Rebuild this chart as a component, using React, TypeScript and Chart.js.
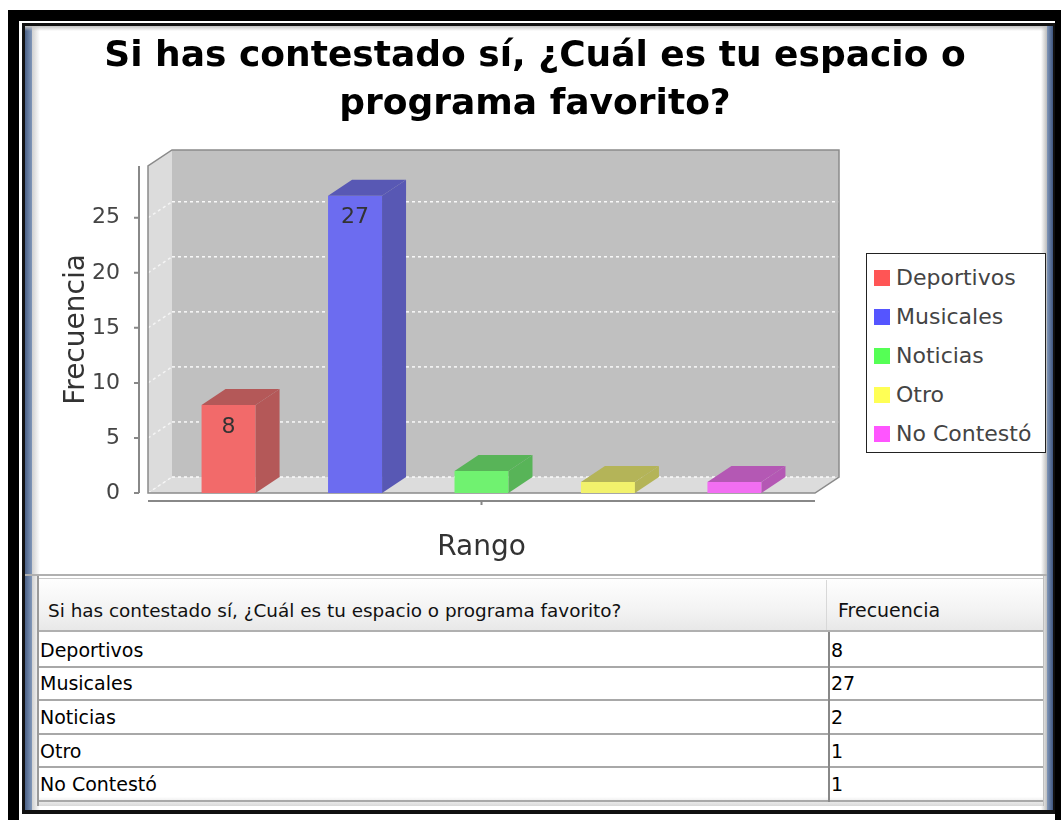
import React, { useEffect, useRef } from 'react';
import { Chart, registerables } from 'chart.js';

Chart.register(...registerables);

// ---------- data ----------
const titleLines = ['Si has contestado sí, ¿Cuál es tu espacio o', 'programa favorito?'];
const categories = [''];
const seriesNames = ['Deportivos', 'Musicales', 'Noticias', 'Otro', 'No Contestó'];
const frequencies = [8, 27, 2, 1, 1];
const yTicks = [0, 5, 10, 15, 20, 25];
const yMax = 29.7;
const yAxisTitle = 'Frecuencia';
const xAxisTitle = 'Rango';
const tableHeader = ['Si has contestado sí, ¿Cuál es tu espacio o programa favorito?', 'Frecuencia'];

// ---------- styles ----------
const frontColors = ['rgb(242,106,106)', 'rgb(108,108,240)', 'rgb(112,242,112)', 'rgb(242,242,108)', 'rgb(242,110,242)'];
const sideColors = ['rgb(180,88,88)', 'rgb(88,88,180)', 'rgb(88,180,88)', 'rgb(180,180,88)', 'rgb(180,88,180)'];
const legendColors = ['#ff5555', '#5555ff', '#55ff55', '#ffff55', '#ff55ff'];
const FONT = '"DejaVu Sans", Verdana, sans-serif';
const DX = 24;
const DY = 16;
const CANVAS_LEFT = 10;
const CANVAS_W = 1050;
const CANVAS_H = 570;

const box3d = {
  id: 'box3d',
  beforeDatasetsDraw(chart: any) {
    const { ctx, chartArea: a, scales } = chart;
    const y = scales.y;
    const L = a.left, R = a.right, T = a.top, B = a.bottom;
    ctx.save();
    // back wall
    ctx.fillStyle = '#c0c0c0';
    ctx.fillRect(L + DX, T - DY, R - L, B - T);
    // left wall
    ctx.fillStyle = '#dcdcdc';
    ctx.beginPath();
    ctx.moveTo(L, T); ctx.lineTo(L + DX, T - DY); ctx.lineTo(L + DX, B - DY); ctx.lineTo(L, B);
    ctx.closePath(); ctx.fill();
    // floor
    ctx.beginPath();
    ctx.moveTo(L, B); ctx.lineTo(L + DX, B - DY); ctx.lineTo(R + DX, B - DY); ctx.lineTo(R, B);
    ctx.closePath(); ctx.fill();
    // grid lines
    ctx.setLineDash([3, 3]);
    ctx.lineWidth = 1.5;
    yTicks.forEach((v) => {
      const py = y.getPixelForValue(v);
      ctx.strokeStyle = 'rgba(255,255,255,0.9)';
      ctx.beginPath();
      ctx.moveTo(L + DX, py - DY); ctx.lineTo(R + DX, py - DY);
      ctx.stroke();
      ctx.strokeStyle = 'rgba(255,255,255,0.7)';
      ctx.beginPath();
      ctx.moveTo(L, py); ctx.lineTo(L + DX, py - DY);
      ctx.stroke();
    });
    ctx.setLineDash([]);
    // outline
    ctx.strokeStyle = '#8a8a8a';
    ctx.lineWidth = 1.5;
    ctx.beginPath();
    ctx.moveTo(L, B); ctx.lineTo(L, T); ctx.lineTo(L + DX, T - DY); ctx.lineTo(R + DX, T - DY);
    ctx.lineTo(R + DX, B - DY); ctx.lineTo(R, B); ctx.closePath();
    ctx.stroke();
    // axis lines
    ctx.strokeStyle = '#888';
    ctx.lineWidth = 2;
    ctx.beginPath();
    ctx.moveTo(L - 9, T); ctx.lineTo(L - 9, B);
    ctx.moveTo(L, B + 8); ctx.lineTo(R, B + 8);
    yTicks.forEach((v) => {
      const py = y.getPixelForValue(v);
      ctx.moveTo(L - 14, py); ctx.lineTo(L - 9, py);
    });
    const cx = scales.x.getPixelForValue(0);
    ctx.moveTo(cx, B + 8); ctx.lineTo(cx, B + 12);
    ctx.stroke();
    ctx.restore();
  },
  afterDatasetsDraw(chart: any) {
    const { ctx } = chart;
    ctx.save();
    chart.data.datasets.forEach((ds: any, i: number) => {
      const meta = chart.getDatasetMeta(i);
      meta.data.forEach((bar: any, j: number) => {
        const { x, y, base, width } = bar.getProps(['x', 'y', 'base', 'width'], true);
        const x0 = x - width / 2;
        const x1 = x + width / 2;
        ctx.fillStyle = sideColors[i];
        ctx.beginPath();
        ctx.moveTo(x0, y); ctx.lineTo(x0 + DX, y - DY); ctx.lineTo(x1 + DX, y - DY); ctx.lineTo(x1, y);
        ctx.closePath(); ctx.fill();
        ctx.beginPath();
        ctx.moveTo(x1, y); ctx.lineTo(x1 + DX, y - DY); ctx.lineTo(x1 + DX, base - DY); ctx.lineTo(x1, base);
        ctx.closePath(); ctx.fill();
        if (base - y > 40) {
          ctx.fillStyle = '#333';
          ctx.font = `22px ${FONT}`;
          ctx.textAlign = 'center';
          ctx.textBaseline = 'middle';
          ctx.fillText(String(ds.data[j]), x, y + 22);
        }
      });
    });
    ctx.restore();
  },
};

const ChartCanvas: React.FC = () => {
  const ref = useRef<HTMLCanvasElement | null>(null);
  useEffect(() => {
    if (!ref.current) return;
    const chart = new Chart(ref.current, {
      type: 'bar',
      data: {
        labels: categories,
        datasets: seriesNames.map((name, i) => ({
          label: name,
          data: [frequencies[i]],
          backgroundColor: frontColors[i],
          borderWidth: 0,
          categoryPercentage: 0.948,
          barPercentage: 0.427,
        })),
      },
      options: {
        responsive: false,
        animation: false,
        layout: { padding: 0 },
        plugins: {
          legend: { display: false },
          tooltip: { enabled: false },
          title: {
            display: true,
            text: titleLines,
            color: '#000',
            font: { family: FONT, size: 36, weight: 'bold', lineHeight: '48px' },
            padding: { top: 33, bottom: 37 },
          },
        },
        scales: {
          x: {
            type: 'category',
            grid: { display: false },
            border: { display: false },
            ticks: { display: false },
            title: {
              display: true,
              text: xAxisTitle,
              color: '#333',
              font: { family: FONT, size: 28 },
              padding: { top: 0, bottom: 5 },
            },
            afterFit: (s: any) => { s.height = 77; },
          },
          y: {
            type: 'linear',
            position: 'left',
            min: 0,
            max: yMax,
            grid: { display: false },
            border: { display: false },
            ticks: { color: '#444', font: { family: FONT, size: 22 }, padding: 20 },
            afterBuildTicks: (s: any) => { s.ticks = yTicks.map((v) => ({ value: v })); },
            title: {
              display: true,
              text: yAxisTitle,
              color: '#333',
              font: { family: FONT, size: 28 },
              padding: { top: 50, bottom: 0 },
            },
            afterFit: (s: any) => { s.width = 138; },
          },
          spacer: {
            type: 'linear',
            position: 'right',
            display: true,
            grid: { display: false },
            border: { display: false },
            ticks: { display: false },
            afterFit: (s: any) => { s.width = CANVAS_W - (815 - CANVAS_LEFT); },
          },
        },
      } as any,
      plugins: [box3d],
    });
    return () => chart.destroy();
  }, []);
  return (
    <canvas
      ref={ref}
      width={CANVAS_W}
      height={CANVAS_H}
      style={{ position: 'absolute', left: CANVAS_LEFT, top: 0, width: CANVAS_W, height: CANVAS_H }}
    />
  );
};

const abs = (l: number, t: number, w: number, h: number, extra: React.CSSProperties = {}): React.CSSProperties => ({
  position: 'absolute', left: l, top: t, width: w, height: h, boxSizing: 'border-box', ...extra,
});

const rowTops = [633, 666.6, 700.2, 733.8, 767.4];
const ROW_H = 33.6;

export default function App() {
  return (
    <div style={{ position: 'absolute', left: 0, top: 0, width: 1061, height: 820, overflow: 'hidden', background: '#fff', fontFamily: FONT }}>
      {/* frames */}
      <div style={abs(8, 10, 1053, 810, { background: '#000' })} />
      <div style={abs(19, 21, 1036, 799, { background: '#fff' })} />
      <div style={abs(22, 23, 1033, 791, { background: '#fff', borderLeft: '3px solid #111', borderTop: '3px solid #111', borderRight: '2px solid #111', borderBottom: '4px solid #111' })} />
      <div style={abs(25, 26, 7, 784, { background: 'linear-gradient(to right, #4a6086, #8197b8)' })} />
      <div style={abs(32, 26, 8, 784, { background: 'linear-gradient(to right, #d0d0d0, rgba(255,255,255,0))' })} />
      <div style={abs(25, 26, 1028, 5, { background: 'linear-gradient(to bottom, #c4c4c4, rgba(255,255,255,0))' })} />
      <div style={abs(1041, 26, 6, 784, { background: 'linear-gradient(to right, rgba(255,255,255,0), #bdbdbd)' })} />
      <div style={abs(1047, 26, 6, 784, { background: 'linear-gradient(to right, #8197b8, #3f5680)' })} />

      <ChartCanvas />

      {/* legend */}
      <div style={abs(866, 253, 180, 200, { border: '1.5px solid #222', background: '#fff' })}>
        {seriesNames.map((name, i) => (
          <div key={name} style={{ position: 'absolute', left: 0, top: 4 + i * 39, height: 39, display: 'flex', alignItems: 'center' }}>
            <span style={{ display: 'inline-block', width: 16, height: 16, background: legendColors[i], marginLeft: 7 }} />
            <span style={{ marginLeft: 6, fontSize: 22, color: '#444', whiteSpace: 'nowrap' }}>{name}</span>
          </div>
        ))}
      </div>

      {/* table */}
      <div style={abs(25, 574, 1022, 2, { background: '#b0b0b0' })} />
      <div style={abs(37, 576, 1007, 230, { borderLeft: '2px solid #9a9a9a', borderRight: '1px solid #c0c0c0', background: 'linear-gradient(to bottom, #fff 96%, #d8d8d8)' })} />
      <div style={abs(39, 578, 1004, 54, { background: 'linear-gradient(to bottom, #fefefe, #f3f3f3 60%, #e8e8e8)', borderBottom: '2px solid #b0b0b0', borderTop: '1px solid #c8c8c8' })} />
      <div style={abs(826, 580, 1, 50, { background: '#d8d8d8' })} />
      <div style={abs(48, 583, 770, 54, { display: 'flex', alignItems: 'center', fontSize: 18.4, color: '#111', whiteSpace: 'nowrap' })}>{tableHeader[0]}</div>
      <div style={abs(838, 583, 200, 54, { display: 'flex', alignItems: 'center', fontSize: 19, color: '#111', whiteSpace: 'nowrap' })}>{tableHeader[1]}</div>
      {seriesNames.map((name, i) => (
        <React.Fragment key={name}>
          <div style={abs(39, rowTops[i], 1004, ROW_H + 1, { borderBottom: '2px solid #a8a8a8' })} />
          <div style={abs(40, rowTops[i], 780, ROW_H, { display: 'flex', alignItems: 'center', fontSize: 19, color: '#000', whiteSpace: 'nowrap' })}>{name}</div>
          <div style={abs(831, rowTops[i], 200, ROW_H, { display: 'flex', alignItems: 'center', fontSize: 19, color: '#000' })}>{frequencies[i]}</div>
        </React.Fragment>
      ))}
      <div style={abs(828, 632, 1.5, 170, { background: '#888' })} />
    </div>
  );
}
